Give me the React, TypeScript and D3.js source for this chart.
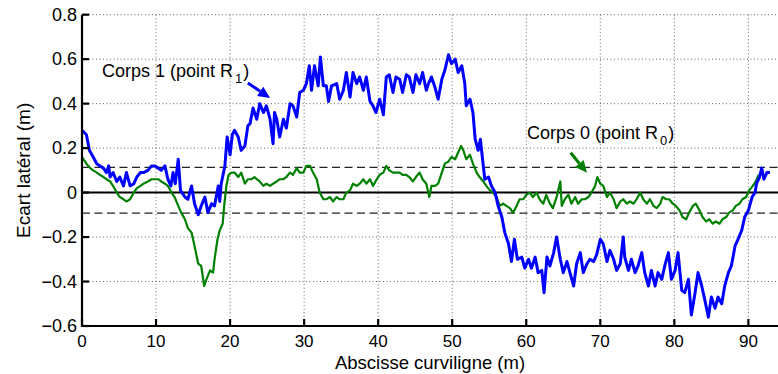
import React, { useRef, useEffect } from "react";
import * as d3 from "d3";

// Corps 1 (point R1) - blue
const corps1X = [
  0, 0.3, 0.6, 1.0, 1.5, 2.0, 2.4, 2.9, 3.3, 3.6, 3.8, 4.2, 4.7, 5.1, 5.6, 6.0, 6.5, 7.0, 7.4, 7.9,
  8.3, 8.9, 9.4, 9.8, 10.3, 10.7, 11.2, 11.6, 12.0, 12.3, 12.6, 13.0, 13.3, 13.9, 14.3, 14.8, 15.2, 15.7, 16.1, 16.6,
  17.0, 17.5, 17.9, 18.4, 18.6, 18.8, 19.3, 19.6, 20.0, 20.3, 20.6, 21.1, 21.5, 22.0, 22.4, 22.7, 23.1, 23.6, 24.0, 24.5,
  24.9, 25.4, 25.8, 26.0, 26.3, 26.7, 27.2, 27.6, 28.1, 28.5, 29.0, 29.4, 29.9, 30.3, 30.7, 31.0, 31.4, 31.9, 32.2, 32.6,
  33.0, 33.3, 33.7, 34.4, 34.8, 35.3, 35.7, 36.2, 36.6, 37.1, 37.5, 38.0, 38.4, 38.9, 39.3, 39.7, 40.2, 40.7, 41.1, 41.5,
  42.0, 42.4, 42.9, 43.3, 43.8, 44.2, 44.7, 45.1, 45.6, 46.0, 46.5, 46.8, 47.2, 47.7, 48.1, 48.6, 49.0, 49.5, 49.9, 50.4,
  50.8, 51.3, 51.7, 51.9, 52.4, 52.8, 53.1, 53.5, 53.8, 54.2, 54.4, 54.9, 55.3, 55.8, 56.2, 56.7, 57.1, 57.6, 58.0, 58.4,
  58.8, 59.4, 59.8, 60.3, 60.7, 61.2, 61.6, 62.1, 62.4, 62.8, 63.2, 63.7, 64.1, 64.6, 65.0, 65.5, 65.9, 66.4, 66.8, 67.3,
  67.7, 68.2, 68.6, 69.1, 69.5, 70.0, 70.4, 70.9, 71.3, 71.8, 72.2, 72.7, 73.1, 73.3, 73.8, 74.2, 74.7, 75.1, 75.6, 76.0,
  76.5, 76.9, 77.4, 77.8, 78.3, 78.7, 79.2, 79.6, 80.1, 80.5, 81.0, 81.4, 81.9, 82.3, 82.8, 83.2, 83.7, 84.1, 84.6, 85.0,
  85.5, 85.9, 86.4, 86.8, 87.3, 87.7, 88.2, 88.6, 89.1, 89.5, 90.0, 90.5, 90.9, 91.1, 91.5, 91.8, 92.1, 92.5, 92.9,
];
const corps1Y = [
  0.28, 0.27, 0.26, 0.19, 0.16, 0.13, 0.12, 0.11, 0.09, 0.12, 0.07, 0.09, 0.05, 0.07, 0.03, 0.09, 0.03, 0.04, 0.07, 0.09,
  0.09, 0.1, 0.12, 0.12, 0.11, 0.1, 0.12, 0.06, 0.03, 0.09, 0.04, 0.15, 0.01, -0.02, -0.03, 0.03, -0.05, -0.1, -0.06, -0.02,
  -0.09, -0.05, -0.06, 0.03, -0.04, 0.04, 0.12, 0.25, 0.17, 0.26, 0.28, 0.25, 0.19, 0.21, 0.3, 0.31, 0.38, 0.33, 0.4, 0.36,
  0.39, 0.33, 0.22, 0.36, 0.33, 0.25, 0.33, 0.29, 0.4, 0.39, 0.34, 0.45, 0.46, 0.49, 0.57, 0.46, 0.57, 0.48, 0.61, 0.48,
  0.48, 0.41, 0.48, 0.49, 0.42, 0.46, 0.54, 0.43, 0.54, 0.49, 0.52, 0.46, 0.52, 0.41, 0.39, 0.36, 0.42, 0.35, 0.52, 0.53,
  0.45, 0.52, 0.51, 0.45, 0.53, 0.52, 0.45, 0.53, 0.49, 0.54, 0.46, 0.49, 0.52, 0.47, 0.42, 0.51, 0.55, 0.62, 0.58, 0.6,
  0.54, 0.57, 0.49, 0.39, 0.42, 0.36, 0.24, 0.19, 0.24, 0.12, 0.06, 0.07, 0.03, 0.0, -0.06, -0.11, -0.18, -0.23, -0.31, -0.21,
  -0.3, -0.29, -0.34, -0.3, -0.34, -0.29, -0.36, -0.35, -0.45, -0.29, -0.33, -0.27, -0.2, -0.3, -0.36, -0.31, -0.36, -0.42, -0.32, -0.27,
  -0.36, -0.32, -0.3, -0.31, -0.28, -0.21, -0.23, -0.31, -0.26, -0.3, -0.35, -0.32, -0.2, -0.29, -0.35, -0.3, -0.36, -0.33, -0.27, -0.36,
  -0.42, -0.35, -0.42, -0.36, -0.39, -0.33, -0.27, -0.39, -0.35, -0.27, -0.44, -0.45, -0.39, -0.55, -0.45, -0.36, -0.42, -0.48, -0.56, -0.47,
  -0.52, -0.47, -0.5, -0.42, -0.36, -0.33, -0.24, -0.21, -0.17, -0.11, -0.08, -0.02, 0.0, 0.04, 0.07, 0.11, 0.06, 0.09, 0.09,
];

// Corps 0 (point R0) - green
const corps0X = [
  0, 0.6, 1.1, 1.5, 2.0, 2.4, 2.9, 3.3, 3.8, 4.2, 4.7, 5.1, 5.6, 6.0, 6.5, 7.0, 7.4, 7.9, 8.3, 8.9,
  9.4, 9.8, 10.3, 10.7, 11.2, 11.6, 12.1, 12.5, 13.0, 13.4, 13.9, 14.3, 14.8, 15.2, 15.7, 16.1, 16.5, 16.8, 17.3, 17.7,
  17.9, 18.3, 18.6, 19.0, 19.2, 19.5, 19.8, 20.2, 20.6, 21.1, 21.5, 22.0, 22.4, 22.9, 23.3, 23.6, 24.0, 24.5, 24.9, 25.4,
  25.8, 26.3, 26.7, 27.2, 27.6, 28.1, 28.5, 29.0, 29.4, 29.9, 30.3, 30.8, 31.2, 31.7, 32.1, 32.6, 33.0, 33.5, 33.9, 34.4,
  34.8, 35.3, 35.7, 36.2, 36.6, 37.1, 37.5, 38.0, 38.4, 38.9, 39.3, 39.8, 40.2, 40.7, 41.1, 41.5, 42.0, 42.4, 42.9, 43.3,
  43.8, 44.2, 44.7, 45.1, 45.6, 46.0, 46.5, 46.9, 47.2, 47.7, 48.1, 48.6, 49.0, 49.5, 49.9, 50.4, 50.8, 51.2, 51.5, 51.9,
  52.4, 52.8, 53.3, 53.7, 54.2, 54.6, 55.1, 55.5, 56.0, 56.4, 56.9, 57.3, 57.8, 58.2, 58.7, 59.1, 59.6, 60.0, 60.5, 60.9,
  61.4, 61.8, 62.3, 62.7, 63.2, 63.6, 64.1, 64.6, 64.8, 65.2, 65.7, 66.1, 66.6, 67.0, 67.5, 67.9, 68.4, 68.8, 69.3, 69.6,
  70.0, 70.4, 70.9, 71.3, 71.8, 72.2, 72.7, 73.1, 73.6, 74.0, 74.5, 74.9, 75.4, 75.8, 76.3, 76.7, 77.2, 77.6, 78.1, 78.4,
  78.9, 79.3, 79.8, 80.2, 80.7, 81.1, 81.6, 82.0, 82.5, 82.9, 83.4, 83.8, 84.3, 84.7, 85.2, 85.6, 86.1, 86.5, 87.0, 87.4,
  87.9, 88.3, 88.8, 89.2, 89.7, 90.1, 90.6, 91.0, 91.4,
];
const corps0Y = [
  0.16, 0.13, 0.11, 0.1, 0.09, 0.08, 0.07, 0.06, 0.05, 0.03, 0.0, -0.02, -0.03, -0.04, -0.03, 0.0, 0.02, 0.03, 0.04, 0.05,
  0.06, 0.06, 0.06, 0.05, 0.04, 0.03, 0.0, -0.02, -0.06, -0.09, -0.12, -0.16, -0.18, -0.24, -0.32, -0.33, -0.42, -0.39, -0.35, -0.36,
  -0.3, -0.21, -0.17, -0.14, -0.06, 0.03, 0.08, 0.09, 0.09, 0.07, 0.09, 0.04, 0.06, 0.06, 0.07, 0.06, 0.05, 0.03, 0.04, 0.03,
  0.04, 0.05, 0.06, 0.06, 0.07, 0.09, 0.08, 0.11, 0.09, 0.09, 0.12, 0.12, 0.09, 0.06, 0.0, -0.03, -0.03, -0.02, -0.04, -0.02,
  -0.03, -0.03, 0.0, 0.01, 0.04, 0.03, 0.04, 0.06, 0.04, 0.06, 0.03, 0.06, 0.08, 0.09, 0.12, 0.1, 0.09, 0.09, 0.09, 0.08,
  0.08, 0.07, 0.05, 0.07, 0.09, 0.06, 0.04, -0.02, 0.03, 0.03, 0.04, 0.09, 0.13, 0.14, 0.16, 0.15, 0.18, 0.21, 0.19, 0.15,
  0.17, 0.13, 0.09, 0.07, 0.05, 0.03, 0.01, 0.0, -0.02, -0.06, -0.05, -0.06, -0.07, -0.09, -0.06, -0.03, -0.03, -0.01, 0.0, -0.02,
  0.0, -0.03, -0.05, -0.01, -0.05, -0.07, -0.02, 0.05, -0.06, -0.03, -0.01, -0.05, -0.02, -0.05, -0.03, -0.03, -0.02, 0.0, 0.03, 0.07,
  0.04, 0.03, -0.02, 0.0, -0.03, -0.07, -0.04, -0.03, -0.05, -0.04, -0.05, -0.03, 0.0, -0.03, -0.05, -0.03, -0.06, -0.07, -0.05, -0.02,
  -0.03, -0.03, -0.05, -0.06, -0.08, -0.11, -0.12, -0.09, -0.06, -0.05, -0.08, -0.11, -0.13, -0.12, -0.14, -0.13, -0.14, -0.12, -0.11, -0.09,
  -0.08, -0.06, -0.05, -0.03, -0.02, 0.01, 0.03, 0.05, 0.08,
];

const xTicks = [0, 10, 20, 30, 40, 50, 60, 70, 80, 90];
const yTicks = [-0.6, -0.4, -0.2, 0, 0.2, 0.4, 0.6, 0.8];
const seuils = [0.113, -0.092];

const W = 778;
const H = 374;
const FONT = "'Liberation Sans', Arial, Helvetica, sans-serif";

const App = () => {
  const ref = useRef(null);

  useEffect(() => {
    const svg = d3.select(ref.current);
    svg.selectAll("*").remove();

    const x = d3.scaleLinear().domain([0, 94]).range([82, 778]);
    const y = d3.scaleLinear().domain([-0.6, 0.8]).range([326, 14.7]);
    const [x0, x1] = x.range();
    const [yb, yt] = y.range();

    // grid
    svg
      .append("g")
      .selectAll("line")
      .data(xTicks.filter((d) => d > 0))
      .join("line")
      .attr("x1", (d) => x(d))
      .attr("x2", (d) => x(d))
      .attr("y1", yt)
      .attr("y2", yb)
      .attr("stroke", "#666")
      .attr("stroke-width", 1)
      .attr("stroke-dasharray", "1,2.5");
    svg
      .append("g")
      .selectAll("line")
      .data(yTicks.filter((d) => d !== -0.6 && d !== 0))
      .join("line")
      .attr("x1", x0)
      .attr("x2", x1)
      .attr("y1", (d) => y(d))
      .attr("y2", (d) => y(d))
      .attr("stroke", "#666")
      .attr("stroke-width", 1)
      .attr("stroke-dasharray", "1,2.5");

    // thresholds
    svg
      .append("g")
      .selectAll("line")
      .data(seuils)
      .join("line")
      .attr("x1", x0)
      .attr("x2", x1)
      .attr("y1", (d) => y(d))
      .attr("y2", (d) => y(d))
      .attr("stroke", "#222")
      .attr("stroke-width", 1.2)
      .attr("stroke-dasharray", "8,4.5");

    // zero line
    svg
      .append("line")
      .attr("x1", x0)
      .attr("x2", x1)
      .attr("y1", y(0))
      .attr("y2", y(0))
      .attr("stroke", "#000")
      .attr("stroke-width", 2);

    const line = d3
      .line()
      .x((d) => x(d[0]))
      .y((d) => y(d[1]));

    const green = corps0X.map((v, i) => [v, corps0Y[i]]);
    const blue = corps1X.map((v, i) => [v, corps1Y[i]]);

    svg
      .append("path")
      .datum(green)
      .attr("fill", "none")
      .attr("stroke", "#008000")
      .attr("stroke-width", 2.2)
      .attr("stroke-linejoin", "round")
      .attr("d", line);
    svg
      .append("path")
      .datum(blue)
      .attr("fill", "none")
      .attr("stroke", "#0000ff")
      .attr("stroke-width", 3)
      .attr("stroke-linejoin", "round")
      .attr("d", line);

    // axes
    svg
      .append("line")
      .attr("x1", x0)
      .attr("x2", x0)
      .attr("y1", yt)
      .attr("y2", yb + 1)
      .attr("stroke", "#000")
      .attr("stroke-width", 2.2);
    svg
      .append("line")
      .attr("x1", x0 - 1)
      .attr("x2", x1)
      .attr("y1", yb)
      .attr("y2", yb)
      .attr("stroke", "#000")
      .attr("stroke-width", 2.2);

    // ticks (inward)
    svg
      .append("g")
      .selectAll("line")
      .data(yTicks)
      .join("line")
      .attr("x1", x0)
      .attr("x2", x0 + 7)
      .attr("y1", (d) => y(d))
      .attr("y2", (d) => y(d))
      .attr("stroke", "#000")
      .attr("stroke-width", 2.2);
    svg
      .append("g")
      .selectAll("line")
      .data(xTicks)
      .join("line")
      .attr("x1", (d) => x(d))
      .attr("x2", (d) => x(d))
      .attr("y1", yb)
      .attr("y2", yb - 7)
      .attr("stroke", "#000")
      .attr("stroke-width", 2.2);

    const fmt = (d) => (d === 0 ? "0" : d3.format(".1f")(d).replace("-", "\u2212"));

    svg
      .append("g")
      .selectAll("text")
      .data(yTicks)
      .join("text")
      .attr("x", 77)
      .attr("y", (d) => y(d) + 6)
      .attr("text-anchor", "end")
      .attr("font-family", FONT)
      .attr("font-size", 18)
      .text(fmt);
    svg
      .append("g")
      .selectAll("text")
      .data(xTicks)
      .join("text")
      .attr("x", (d) => x(d))
      .attr("y", 347)
      .attr("text-anchor", "middle")
      .attr("font-family", FONT)
      .attr("font-size", 17)
      .text((d) => d);

    svg
      .append("text")
      .attr("x", (x0 + x1) / 2)
      .attr("y", 369)
      .attr("text-anchor", "middle")
      .attr("font-family", FONT)
      .attr("font-size", 18.5)
      .text("Abscisse curviligne (m)");
    svg
      .append("text")
      .attr("transform", `translate(30,${(yt + yb) / 2}) rotate(-90)`)
      .attr("text-anchor", "middle")
      .attr("font-family", FONT)
      .attr("font-size", 19)
      .text("Ecart latéral (m)");

    // annotations
    const annots = [
      { label: "Corps 1 (point R", sub: "1", tx: 2.7, ty: 0.52, from: [22.4, 0.493], to: [25.4, 0.425], color: "#0000ff" },
      { label: "Corps 0 (point R", sub: "0", tx: 60.1, ty: 0.241, from: [66.0, 0.179], to: [68.2, 0.089], color: "#008000" },
    ];
    annots.forEach((a) => {
      const t = svg
        .append("text")
        .attr("x", x(a.tx))
        .attr("y", y(a.ty))
        .attr("font-family", FONT)
        .attr("font-size", 18);
      t.append("tspan").text(a.label);
      t.append("tspan").attr("dx", 2).attr("dy", 6).attr("font-size", 13).text(a.sub);
      t.append("tspan").attr("dx", 1).attr("dy", -6).text(")");

      const fx = x(a.from[0]);
      const fy = y(a.from[1]);
      const ex = x(a.to[0]);
      const ey = y(a.to[1]);
      const ang = Math.atan2(ey - fy, ex - fx);
      const hl = 12;
      const hw = 5.5;
      const bx = ex - hl * Math.cos(ang);
      const by = ey - hl * Math.sin(ang);
      svg
        .append("line")
        .attr("x1", fx)
        .attr("y1", fy)
        .attr("x2", bx)
        .attr("y2", by)
        .attr("stroke", a.color)
        .attr("stroke-width", 3);
      svg
        .append("path")
        .attr(
          "d",
          `M${ex},${ey}L${bx + hw * Math.sin(ang)},${by - hw * Math.cos(ang)}L${bx - hw * Math.sin(ang)},${by + hw * Math.cos(ang)}Z`
        )
        .attr("fill", a.color);
    });
  }, []);

  return (
    <svg
      ref={ref}
      width={W}
      height={H}
      style={{ position: "absolute", left: 0, top: 0, background: "#fff" }}
    />
  );
};

export default App;
